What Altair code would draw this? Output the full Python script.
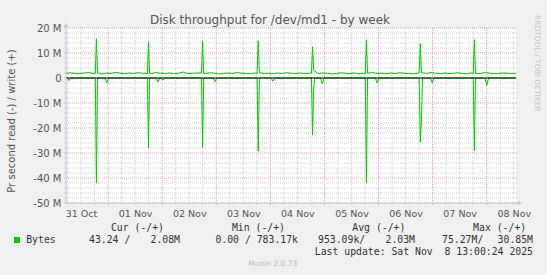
import json
import altair as alt
import pandas as pd

# ---------------- data (values in M bytes/s, time in hours from 2025-10-31 05:20) ----------------
TITLE = "Disk throughput for /dev/md1 - by week"
Y_TITLE = "Pr second read (-) / write (+)"
X_LABELS = ["31 Oct", "01 Nov", "02 Nov", "03 Nov", "04 Nov", "05 Nov", "06 Nov", "07 Nov", "08 Nov"]
X_END = 199.67                      # 2025-11-08 13:00
LABEL_HOURS = [6.67 + 24 * i for i in range(9)]      # noon of each day
MIDNIGHT_HOURS = [18.67 + 24 * i for i in range(8)]  # 00:00 of each day
SIXH_HOURS = [0.67 + 6 * i for i in range(34)]       # every 6 hours
Y_TICKS = [-50, -40, -30, -20, -10, 0, 10, 20]
Y_MINOR = [v for v in range(-48, 20, 2) if v % 10 != 0]

BASE_HOURS = [2 * i for i in range(100)] + [X_END]
WRITE_BASE = [1.9, 2.1, 1.8, 1.7, 2.0, 2.2, 1.8, 1.9, 1.6, 2.0,
              1.8, 2.3, 1.9, 1.7, 2.0, 1.8, 2.1, 1.9, 1.6, 1.8,
              2.2, 1.9, 1.8, 2.0, 1.7, 1.9, 2.4, 1.8, 1.9, 2.0,
              1.7, 1.8, 2.1, 1.9, 1.6, 1.9, 2.0, 1.8, 2.2, 1.9,
              1.8, 1.7, 2.0, 2.3, 1.8, 1.9, 1.7, 2.0, 1.8, 2.1,
              1.9, 1.8, 2.0, 1.7, 1.9, 2.2, 1.8, 2.0, 1.9, 1.6,
              1.8, 2.1, 1.9, 1.8, 2.0, 1.7, 1.9, 2.0, 2.2, 1.8,
              1.9, 1.7, 2.0, 1.8, 2.1, 1.9, 1.8, 1.6, 1.9, 2.0,
              1.8, 2.2, 1.9, 1.7, 2.0, 1.8, 1.9, 2.1, 1.8, 1.7,
              2.0, 1.9, 1.8, 2.2, 1.9, 1.7, 1.8, 2.0, 1.9, 1.8, 1.9]

SPIKE_HOURS = [13.5, 36.6, 60.6, 85.3, 109.4, 133.3, 157.2, 181.2]
WRITE_PRE = [1.9, 1.8, 2.0, 1.8, 1.9, 1.8, 2.0, 1.9]
WRITE_PEAKS = [15.7, 14.5, 14.8, 14.9, 12.5, 15.3, 13.7, 15.3]
WRITE_POST = [2.0, 1.9, 1.8, 2.1, 3.0, 1.9, 2.2, 1.8]
READ_PEAKS = [-42.0, -28.0, -27.8, -29.3, -22.7, -41.8, -25.6, -29.0]
READ_AFTER = [0.0, 0.0, 0.0, 0.0, -4.0, 0.0, -17.3, 0.0]
DIP_HOURS = [1.3, 18.1, 40.8, 43.0, 66.1, 91.8, 113.7, 138.1, 162.5, 186.7]
DIP_VALUES = [-1.0, -2.0, -1.6, -0.8, -1.5, -1.3, -2.3, -2.0, -2.0, -3.0]

# ---------------- tables ----------------
w_rows = [(h, v) for h, v in zip(BASE_HOURS, WRITE_BASE)
          if all(abs(h - s) >= 1.0 for s in SPIKE_HOURS)]
for s, a, p, b in zip(SPIKE_HOURS, WRITE_PRE, WRITE_PEAKS, WRITE_POST):
    w_rows += [(s - 0.5, a), (s, p), (s + 0.5, b)]
write_df = pd.DataFrame(sorted(w_rows), columns=["h", "v"])

r_rows = [(0.0, 0.0), (X_END, 0.0)]
for s, p, a in zip(SPIKE_HOURS, READ_PEAKS, READ_AFTER):
    r_rows += [(s - 0.5, 0.0), (s, p), (s + 0.5, a), (s + 1.0, 0.0)]
for s, v in zip(DIP_HOURS, DIP_VALUES):
    r_rows += [(s - 0.8, 0.0), (s, v), (s + 0.8, 0.0)]
read_df = pd.DataFrame(sorted(r_rows), columns=["h", "v"])

# ---------------- styling ----------------
W, H = 450, 175
GREEN = "#00cc00"
AXIS_C = "#c4c4ee"
FONT = "DejaVu Sans"
MONO = "DejaVu Sans Mono"

xs = alt.Scale(domain=[0, X_END], nice=False, zero=False)
ys = alt.Scale(domain=[-50, 20], nice=False, zero=False)

label_expr = "[" + ",".join(json.dumps(s) for s in X_LABELS) + "][round((datum.value - 6.67) / 24)]"

x_axis = alt.Axis(values=LABEL_HOURS, labelExpr=label_expr, title=None, grid=False, ticks=False,
                  domain=False, labelFont=FONT, labelFontSize=9.5, labelColor="#555555",
                  labelPadding=5, labelOverlap=False, labelFlush=False)
y_axis = alt.Axis(values=Y_TICKS, labelExpr="datum.value == 0 ? '0' : datum.value + ' M'",
                  title=None, grid=False, ticks=False, domain=False, labelFont=FONT,
                  labelFontSize=10, labelColor="#555555", labelPadding=5)

XF = dict(field="h", type="quantitative", scale=xs, axis=x_axis)
YF = dict(field="v", type="quantitative", scale=ys, axis=y_axis)

minor_y = alt.Chart(pd.DataFrame({"v": Y_MINOR})).mark_rule(
    color="#d2d2d2", strokeDash=[1, 1], strokeWidth=1).encode(
    y=alt.Y(**YF), x=alt.value(-2), x2=alt.value(W + 2))
minor_x = alt.Chart(pd.DataFrame({"h": [h for h in SIXH_HOURS if h not in MIDNIGHT_HOURS]})).mark_rule(
    color="#d2d2d2", strokeDash=[1, 1], strokeWidth=1).encode(
    x=alt.X(**XF), y=alt.value(0), y2=alt.value(H + 2))
major_y = alt.Chart(pd.DataFrame({"v": Y_TICKS})).mark_rule(
    color="#eaa0a0", strokeDash=[1, 1], strokeWidth=1).encode(
    y=alt.Y(**YF), x=alt.value(-2), x2=alt.value(W + 2))
major_x = alt.Chart(pd.DataFrame({"h": MIDNIGHT_HOURS})).mark_rule(
    color="#eaa0a0", strokeDash=[1, 1], strokeWidth=1).encode(
    x=alt.X(**XF), y=alt.value(0), y2=alt.value(H + 2))

write_line = alt.Chart(write_df).mark_line(color=GREEN, strokeWidth=1).encode(
    x=alt.X(**XF), y=alt.Y(**YF))
read_line = alt.Chart(read_df).mark_line(color=GREEN, strokeWidth=1).encode(
    x=alt.X(**XF), y=alt.Y(**YF))

one = pd.DataFrame({"a": [0]})
zero_line = alt.Chart(pd.DataFrame({"v": [0]})).mark_rule(color="black", strokeWidth=1.2).encode(
    y=alt.Y(**YF), x=alt.value(0), x2=alt.value(W))
y_axis_line = alt.Chart(one).mark_rule(color=AXIS_C, strokeWidth=1).encode(
    x=alt.value(0), y=alt.value(-2), y2=alt.value(H))
x_axis_line = alt.Chart(one).mark_rule(color=AXIS_C, strokeWidth=1).encode(
    x=alt.value(0), x2=alt.value(W + 3), y=alt.value(H))
y_arrow = alt.Chart(one).mark_point(shape="triangle-up", filled=True, color=AXIS_C, size=22, opacity=1).encode(
    x=alt.value(0), y=alt.value(-3))
x_arrow = alt.Chart(one).mark_point(shape="triangle-right", filled=True, color=AXIS_C, size=22, opacity=1).encode(
    x=alt.value(W + 4), y=alt.value(H))
legend_sq = alt.Chart(one).mark_square(color=GREEN, size=36, opacity=1).encode(
    x=alt.value(-49), y=alt.value(212))


def txt(text, x, y, align="left", size=9.8, color="#333333", font=MONO, angle=0):
    return alt.Chart(pd.DataFrame({"t": [text]})).mark_text(
        align=align, baseline="middle", fontSize=size, color=color, font=font, angle=angle).encode(
        x=alt.value(x), y=alt.value(y), text="t:N")


texts = [
    txt(TITLE, 204, -8.5, "center", 12, "#555555", FONT),
    txt(Y_TITLE, -54.5, 93, "center", 10, "#555555", FONT, 270),
    txt("RRDTOOL / TOBI OETIKER", 471, -13, "left", 7.5, "#c4c4c4", FONT, 90),
    txt("Cur (-/+)", 98, 200, "right"),
    txt("Min (-/+)", 219, 200, "right"),
    txt("Avg (-/+)", 339.4, 200, "right"),
    txt("Max (-/+)", 460.2, 200, "right"),
    txt("Bytes", -39.8, 212),
    txt("43.24 /", 23, 212),
    txt("2.08M", 114, 212, "right"),
    txt("0.00 / 783.17k", 232, 212, "right"),
    txt("953.09k/", 252, 212),
    txt("2.03M", 349, 212, "right"),
    txt("75.27M/", 376, 212),
    txt("30.85M", 467, 212, "right"),
    txt("Last update: Sat Nov\u00a0 8 13:00:24 2025", 467, 224, "right"),
    txt("Munin 2.0.73", 206.8, 236, "center", 7.5, "#bbbbbb", FONT),
]

chart = alt.layer(
    minor_y, minor_x, major_y, major_x, write_line, read_line, zero_line,
    y_axis_line, x_axis_line, y_arrow, x_arrow, legend_sq, *texts
).properties(
    width=W, height=H,
    padding={"left": 66, "top": 28, "right": 31, "bottom": 72},
    autosize=alt.AutoSizeParams(type="none"),
).configure(background="#f0f0f0").configure_view(fill="white", stroke=None)

chart.save("out.html", embed_options={"renderer": "svg", "actions": False})
